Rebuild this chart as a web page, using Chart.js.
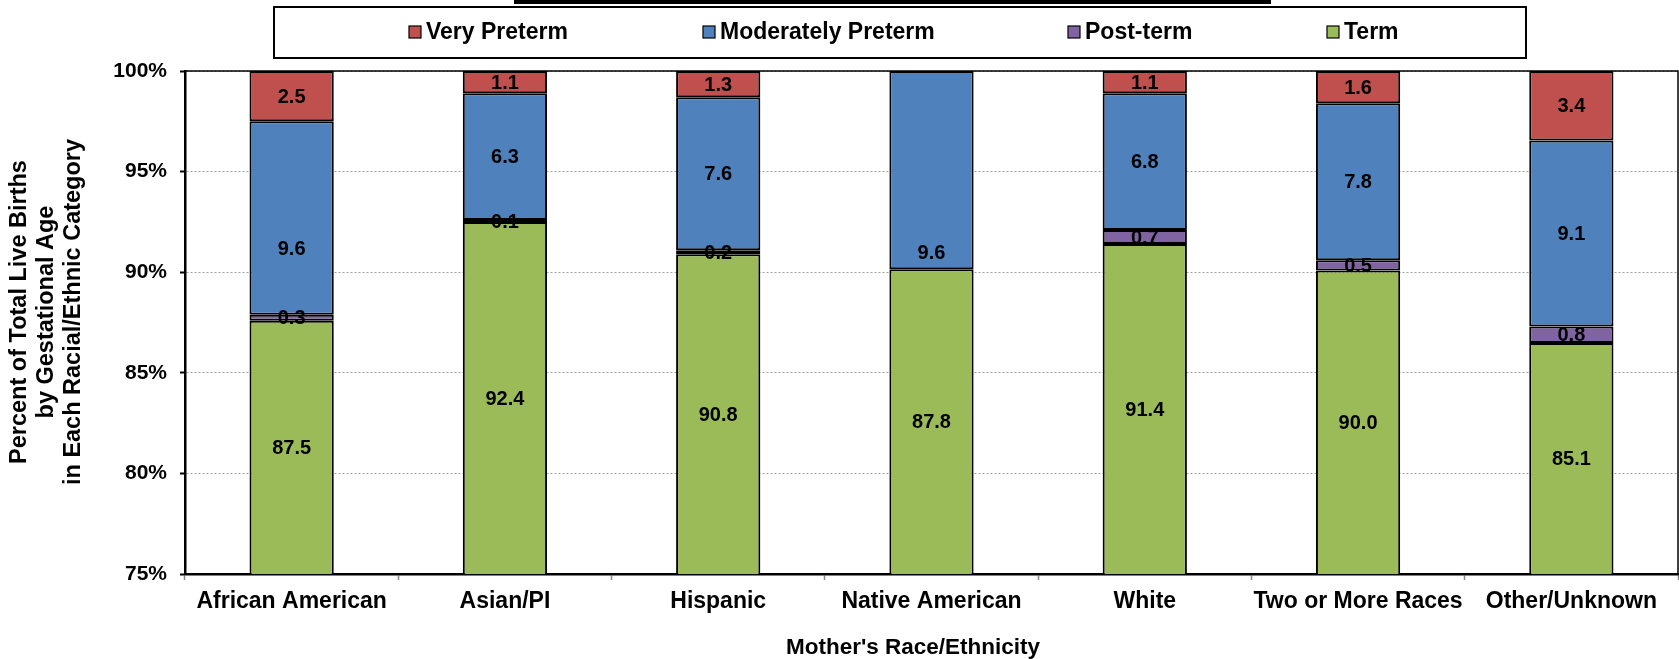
<!DOCTYPE html>
<html>
<head>
<meta charset="utf-8">
<script src="https://cdn.jsdelivr.net/npm/chart.js@4.4.1/dist/chart.umd.min.js"></script>
<style>
  html, body { margin: 0; padding: 0; background: #fff; }
  #wrap { width: 1679px; height: 659px; }
</style>
</head>
<body>
<div id="wrap"><canvas id="chart" width="1679" height="659"></canvas></div>
<script>
const categories = ["African American", "Asian/PI", "Hispanic", "Native American", "White", "Two or More Races", "Other/Unknown"];
const termValues = [87.5, 92.4, 90.8, 87.8, 91.4, 90.0, 85.1];
const postTermValues = [0.3, 0.1, 0.2, null, 0.7, 0.5, 0.8];
const moderatelyPretermValues = [9.6, 6.3, 7.6, 9.6, 6.8, 7.8, 9.1];
const veryPretermValues = [2.5, 1.1, 1.3, null, 1.1, 1.6, 3.4];
const yTicks = [75, 80, 85, 90, 95, 100];

const FONT = "'Liberation Sans', Arial, sans-serif";

// 100% stacked: each bar is scaled to its own total, labels keep the raw values
const series = [
  { label: "Term", values: termValues, color: "#9BBB59" },
  { label: "Post-term", values: postTermValues, color: "#8064A2" },
  { label: "Moderately Preterm", values: moderatelyPretermValues, color: "#4F81BD" },
  { label: "Very Preterm", values: veryPretermValues, color: "#C0504D" },
];

const totals = categories.map((_, i) =>
  series.reduce((sum, s) => sum + (s.values[i] || 0), 0)
);

const datasets = series.map((s) => ({
  label: s.label,
  data: s.values.map((v, i) => (v === null ? null : (v / totals[i]) * 100)),
  rawValues: s.values,
  backgroundColor: s.color,
  borderColor: "#000",
  borderWidth: 2,
  borderSkipped: false,
  barPercentage: 0.395,
  categoryPercentage: 1,
}));

// legend order as in the picture, with x of each marker
const legendItems = [
  { label: "Very Preterm", color: "#C0504D", x: 409 },
  { label: "Moderately Preterm", color: "#4F81BD", x: 703 },
  { label: "Post-term", color: "#8064A2", x: 1068 },
  { label: "Term", color: "#9BBB59", x: 1327 },
];

// two labels were dragged down by hand in the original (dataset index, category index, px)
const labelNudges = [
  { ds: 2, i: 0, dy: 30 },
  { ds: 2, i: 3, dy: 82 },
];

const yTitleLines = ["Percent of Total Live Births", "by Gestational Age", "in Each Racial/Ethnic Category"];
const xTitle = "Mother's Race/Ethnicity";

const decor = {
  id: "decor",
  afterDatasetsDraw(chart) {
    const ctx = chart.ctx;
    const area = chart.chartArea;
    ctx.save();
    ctx.font = `bold 20px ${FONT}`;
    ctx.fillStyle = "#000";
    ctx.textAlign = "center";
    ctx.textBaseline = "middle";
    chart.data.datasets.forEach((ds, di) => {
      const meta = chart.getDatasetMeta(di);
      meta.data.forEach((bar, i) => {
        const raw = ds.rawValues[i];
        if (raw === null || raw === undefined) return;
        const { x, y, base } = bar.getProps(["x", "y", "base"], true);
        const top = Math.max(Math.min(y, base), area.top);
        const bottom = Math.min(Math.max(y, base), area.bottom);
        const nudge = labelNudges.find((n) => n.ds === di && n.i === i);
        ctx.fillText(raw.toFixed(1), x, (top + bottom) / 2 + 1 + (nudge ? nudge.dy : 0));
      });
    });
    ctx.restore();
  },
  afterDraw(chart) {
    const ctx = chart.ctx;
    const area = chart.chartArea;
    ctx.save();
    // clipped title bar at the very top
    ctx.fillStyle = "#000";
    ctx.fillRect(514, 0, 757, 4);

    // plot frame (top and right)
    ctx.strokeStyle = "#000";
    ctx.lineWidth = 1.5;
    ctx.beginPath();
    ctx.moveTo(area.left, area.top);
    ctx.lineTo(area.right, area.top);
    ctx.lineTo(area.right, area.bottom);
    ctx.stroke();

    // legend box
    ctx.lineWidth = 2;
    ctx.strokeRect(274, 7, 1252, 51);
    ctx.font = `bold 23px ${FONT}`;
    ctx.textBaseline = "middle";
    ctx.textAlign = "left";
    legendItems.forEach((item) => {
      ctx.fillStyle = item.color;
      ctx.fillRect(item.x, 26, 12, 12);
      ctx.lineWidth = 1.2;
      ctx.strokeStyle = "#000";
      ctx.strokeRect(item.x, 26, 12, 12);
      ctx.fillStyle = "#000";
      ctx.fillText(item.label, item.x + 17, 33);
    });

    // axis titles
    ctx.fillStyle = "#000";
    ctx.textAlign = "center";
    ctx.font = `bold 22.5px ${FONT}`;
    ctx.fillText(xTitle, 913, 648);

    ctx.font = `bold 23.5px ${FONT}`;
    ctx.translate(0, 312);
    ctx.rotate(-Math.PI / 2);
    yTitleLines.forEach((line, k) => {
      ctx.fillText(line, 0, 19.5 + k * 26.8);
    });
    ctx.restore();
  },
};

new Chart(document.getElementById("chart"), {
  type: "bar",
  data: { labels: categories, datasets },
  plugins: [decor],
  options: {
    responsive: false,
    animation: false,
    events: [],
    layout: { padding: { top: 71, right: 1, left: 0, bottom: 0 } },
    plugins: {
      legend: { display: false },
      title: { display: false },
      tooltip: { enabled: false },
    },
    scales: {
      x: {
        stacked: true,
        afterFit: (scale) => { scale.height = 85; },
        grid: {
          display: true,
          drawOnChartArea: false,
          drawTicks: true,
          tickLength: 6,
          tickColor: "#888",
          tickWidth: 1.5,
        },
        border: { display: true, color: "#000", width: 2.5 },
        ticks: {
          color: "#000",
          font: { family: FONT, size: 23, weight: "bold" },
          padding: 8,
          maxRotation: 0,
          autoSkip: false,
        },
      },
      y: {
        stacked: true,
        min: 75,
        max: 100,
        afterFit: (scale) => { scale.width = 185; },
        afterBuildTicks: (scale) => { scale.ticks = yTicks.map((v) => ({ value: v })); },
        grid: {
          color: "#a0a0a0",
          lineWidth: 1,
          drawTicks: true,
          tickLength: 5,
          tickColor: "#000",
          tickWidth: 2,
          tickBorderDash: [],
        },
        border: { display: true, color: "#000", width: 2.5, dash: [2, 2] },
        ticks: {
          color: "#000",
          font: { family: FONT, size: 21, weight: "bold" },
          padding: 13,
          callback: (v) => `${v}%`,
        },
      },
    },
  },
});
</script>
</body>
</html>
